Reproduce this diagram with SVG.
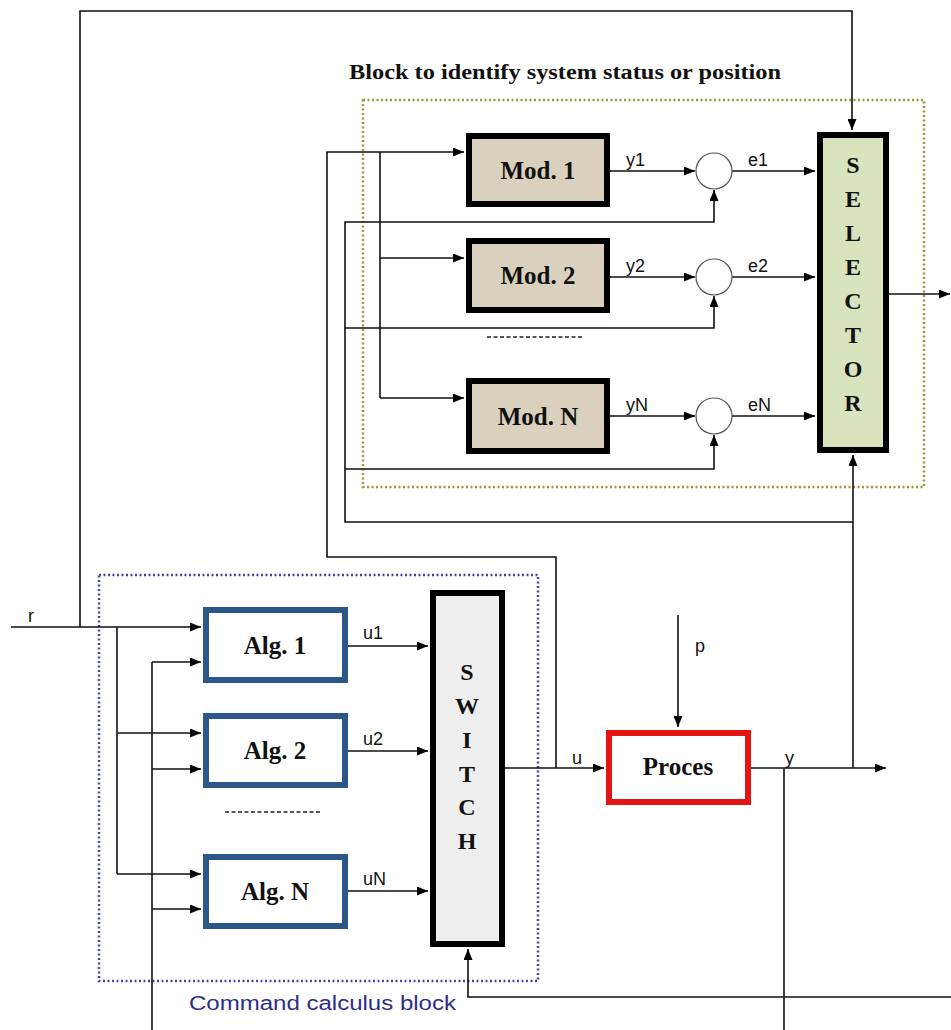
<svg xmlns="http://www.w3.org/2000/svg" width="951" height="1030" viewBox="0 0 951 1030">
<style>
.w{fill:none;stroke:#111;stroke-width:1.6}
.a{fill:none;stroke:#111;stroke-width:1.6;marker-end:url(#ah)}
.mod{fill:#d9d1bd;stroke:#000;stroke-width:6}
.alg{fill:#fff;stroke:#2b5889;stroke-width:6}
.bl{font-family:"Liberation Serif",serif;font-weight:bold;font-size:25px;fill:#111;text-anchor:middle}
.lt{font-family:"Liberation Serif",serif;font-weight:bold;font-size:24px;fill:#111;text-anchor:middle}
.sl{font-family:"Liberation Sans",sans-serif;font-size:18px;fill:#111}
</style>
<defs>
<marker id="ah" markerWidth="11" markerHeight="9" refX="11" refY="4.5" orient="auto" markerUnits="userSpaceOnUse"><path d="M0,0 L11,4.5 L0,9 z" fill="#000"/></marker>
</defs>
<rect width="951" height="1030" fill="#fff"/>
<g id="identify-block">
<rect x="363" y="100" width="561" height="387" fill="none" stroke="#a39433" stroke-width="2.5" stroke-dasharray="2,2.5"/>
<text x="349" y="79" font-family="Liberation Serif,serif" font-weight="bold" font-size="20" textLength="432" lengthAdjust="spacingAndGlyphs" fill="#111">Block to identify system status or position</text>
</g>
<g id="command-block">
<rect x="99" y="575" width="439" height="406" fill="none" stroke="#4444b0" stroke-width="2.5" stroke-dasharray="2,2.5"/>
<text x="189" y="1010" font-family="Liberation Sans,sans-serif" font-size="20" fill="#2e2e8a" textLength="267" lengthAdjust="spacingAndGlyphs">Command calculus block</text>
</g>
<g id="connectors">
<path class="a" d="M80,627 V11 H852 V130"/>
<path class="a" d="M11,627 H201"/>
<path class="w" d="M117,627 V874"/>
<path class="a" d="M117,733 H201"/>
<path class="a" d="M117,874 H201"/>
<path class="w" d="M152,1030 V662"/>
<path class="a" d="M152,662 H201"/>
<path class="a" d="M152,769 H201"/>
<path class="a" d="M152,909 H201"/>
<path class="a" d="M348,646 H428"/>
<path class="a" d="M348,751 H428"/>
<path class="a" d="M348,891 H428"/>
<path class="a" d="M505,768 H604"/>
<path class="a" d="M556,768 V557 H327 V152 H464"/>
<path class="w" d="M380,152 V398"/>
<path class="a" d="M380,258 H464"/>
<path class="a" d="M380,398 H464"/>
<path class="a" d="M610,171 H695"/>
<path class="a" d="M610,277 H695"/>
<path class="a" d="M610,416 H695"/>
<path class="a" d="M732,171 H815"/>
<path class="a" d="M732,277 H815"/>
<path class="a" d="M732,416 H815"/>
<path class="a" d="M751,768 H886"/>
<path class="a" d="M853,768 V455"/>
<path class="a" d="M853,522 H345 V222 H714 V190"/>
<path class="a" d="M345,328 H714 V296"/>
<path class="a" d="M345,469 H714 V435"/>
<path class="a" d="M889,294 H950"/>
<path class="a" d="M678,615 V727"/>
<path class="w" d="M784,768 V1030"/>
<path class="a" d="M951,997 H468 V949"/>
<path d="M487,337 H584" stroke="#222" stroke-width="1.3" stroke-dasharray="4,2.5" fill="none"/>
<path d="M225,812 H322" stroke="#222" stroke-width="1.3" stroke-dasharray="4,2.5" fill="none"/>
</g>
<g id="labels">
<text class="sl" x="28" y="622">r</text>
<text class="sl" x="363" y="639">u1</text>
<text class="sl" x="363" y="745">u2</text>
<text class="sl" x="363" y="885">uN</text>
<text class="sl" x="572" y="764">u</text>
<text class="sl" x="785" y="764">y</text>
<text class="sl" x="695" y="652">p</text>
<text class="sl" x="626" y="166">y1</text>
<text class="sl" x="748" y="166">e1</text>
<text class="sl" x="626" y="272">y2</text>
<text class="sl" x="748" y="272">e2</text>
<text class="sl" x="626" y="411">yN</text>
<text class="sl" x="748" y="411">eN</text>
</g>
<g id="mod1"><rect class="mod" x="469" y="136" width="138" height="68"/><text class="bl" x="538" y="179">Mod. 1</text></g>
<g id="mod2"><rect class="mod" x="469" y="241" width="138" height="69"/><text class="bl" x="538" y="284">Mod. 2</text></g>
<g id="modN"><rect class="mod" x="469" y="381" width="138" height="70"/><text class="bl" x="538" y="425">Mod. N</text></g>
<g id="sum1"><circle cx="714" cy="171" r="18" fill="#fff" stroke="#555" stroke-width="1.2"/></g>
<g id="sum2"><circle cx="714" cy="277" r="18" fill="#fff" stroke="#555" stroke-width="1.2"/></g>
<g id="sumN"><circle cx="714" cy="416" r="18" fill="#fff" stroke="#555" stroke-width="1.2"/></g>
<g id="selector">
<rect x="820" y="135" width="66" height="315" fill="#d7e4bd" stroke="#000" stroke-width="6"/>
<text class="lt" x="853" y="173">S</text>
<text class="lt" x="853" y="207">E</text>
<text class="lt" x="853" y="241">L</text>
<text class="lt" x="853" y="275">E</text>
<text class="lt" x="853" y="309">C</text>
<text class="lt" x="853" y="343">T</text>
<text class="lt" x="853" y="377">O</text>
<text class="lt" x="853" y="411">R</text>
</g>
<g id="alg1"><rect class="alg" x="206" y="610" width="139" height="70"/><text class="bl" x="275" y="654">Alg. 1</text></g>
<g id="alg2"><rect class="alg" x="206" y="716" width="139" height="69"/><text class="bl" x="275" y="759">Alg. 2</text></g>
<g id="algN"><rect class="alg" x="206" y="857" width="139" height="69"/><text class="bl" x="275" y="900">Alg. N</text></g>
<g id="switch">
<rect x="433" y="593" width="69" height="351" fill="#eeeeee" stroke="#000" stroke-width="6"/>
<text class="lt" x="467" y="680">S</text>
<text class="lt" x="467" y="714">W</text>
<text class="lt" x="467" y="748">I</text>
<text class="lt" x="467" y="782">T</text>
<text class="lt" x="467" y="815">C</text>
<text class="lt" x="467" y="849">H</text>
</g>
<g id="proces"><rect x="609" y="733" width="139" height="69" fill="#fff" stroke="#e31414" stroke-width="6"/><text class="bl" x="678" y="775">Proces</text></g>
</svg>
